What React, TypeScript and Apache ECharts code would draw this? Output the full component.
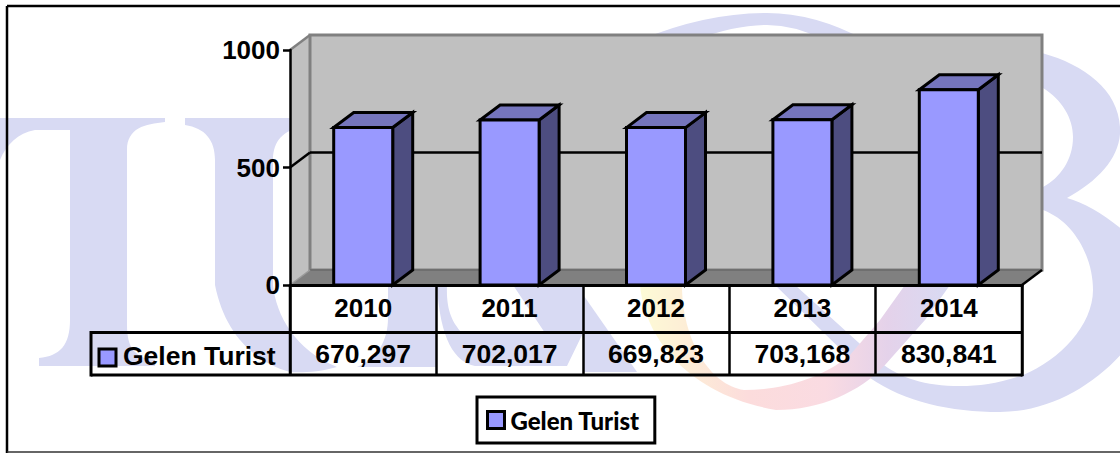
import React, { useEffect, useRef } from "react";
import * as echarts from "echarts";

const years = ["2010", "2011", "2012", "2013", "2014"];
const visitors = [670297, 702017, 669823, 703168, 830841];
const seriesName = "Gelen Turist";
const yTicks = { min: 0, max: 1000, interval: 500 };

const WM = "#d8daf3";
const watermarkT =
  "M0,118 L165,118 L165,122 C145,124 127,128 127,150 L127,325 C127,348 135,358 155,360 L155,366 L39,366 L39,358 C60,356 70,345 70,320 L70,130 L35,130 C18,133 6,145 0,160 Z";
const watermarkU =
  "M185,118 L300,118 L300,128 C285,130 273,140 273,160 L273,285 C276,315 295,350 337,367 C320,372 300,373 290,372 C255,362 225,335 215,285 L215,160 C215,140 205,128 185,125 Z";
const watermarkUArm = "M388,200 L436,200 L436,367 L357,367 C378,358 388,340 388,318 Z";
const watermarkN1 =
  "M436,285 L447,285 C446,310 452,322 462,333 L545,333 L513,285 L583,285 L583,333 L567,366 L475,366 C455,362 440,340 437,285 Z";
const watermarkN2 = "M584,296 L637,372 L584,372 Z";
const watermarkTop =
  "M640,40 Q705,13 767,13 Q815,13 865,40 L824,40 Q795,25 767,25 Q735,25 695,40 Z";
const watermarkB =
  "M775,285 L870,378 C905,402 950,412 1000,412 C1050,412 1095,385 1125,350 L1125,232 C1105,215 1085,203 1067,198 C1100,180 1122,155 1120,127 C1118,90 1085,65 1042,53 L1030,53 L1030,88 L1043,88 C1062,100 1073,118 1073,137 C1073,160 1060,178 1043,187 L1030,195 L1030,208 L1043,210 C1075,222 1093,258 1093,290 C1093,325 1060,360 1023,375 C1000,383 980,386 960,386 C925,386 900,378 880,362 L795,285 Z";
const watermarkRing =
  "M640,285 C645,340 690,395 776,410 C820,410 860,392 885,365 L925,320 L950,285 L905,285 L880,320 L850,355 C820,380 780,390 744,390 C710,385 682,340 682,285 Z";

echarts.graphic.registerShape("wmT", echarts.graphic.extendPath(watermarkT, {}));
echarts.graphic.registerShape("wmU", echarts.graphic.extendPath(watermarkU, {}));
echarts.graphic.registerShape("wmUArm", echarts.graphic.extendPath(watermarkUArm, {}));
echarts.graphic.registerShape("wmN1", echarts.graphic.extendPath(watermarkN1, {}));
echarts.graphic.registerShape("wmN2", echarts.graphic.extendPath(watermarkN2, {}));
echarts.graphic.registerShape("wmTop", echarts.graphic.extendPath(watermarkTop, {}));
echarts.graphic.registerShape("wmB", echarts.graphic.extendPath(watermarkB, {}));
echarts.graphic.registerShape("wmRing", echarts.graphic.extendPath(watermarkRing, {}));

const DX = 20;
const DY = -15;
const FONT = "Liberation Sans";

function App() {
  const ref = useRef<HTMLDivElement>(null);
  useEffect(() => {
    const chart = echarts.init(ref.current!, undefined, { renderer: "svg" });

    const poly = (points: number[][], fill: string, stroke: string, lineWidth: number) => ({
      type: "polygon",
      shape: { points },
      style: { fill, stroke, lineWidth, lineJoin: "miter" },
    });
    const seg = (x1: number, y1: number, x2: number, y2: number, stroke: string, lineWidth: number) => ({
      type: "line",
      shape: { x1, y1, x2, y2 },
      style: { stroke, lineWidth },
    });

    const renderBackdrop = (params: any, api: any) => {
      const c = params.coordSys;
      const L = c.x, R = c.x + c.width, T = c.y, B = c.y + c.height;
      const mid = api.coord([0, 500])[1];
      return {
        type: "group",
        children: [
          poly([[L, T], [L + DX, T + DY], [L + DX, B + DY], [L, B]], "#c0c0c0", "none", 0),
          poly([[L + DX, T + DY], [R + DX, T + DY], [R + DX, B + DY], [L + DX, B + DY]], "#c0c0c0", "#808080", 3),
          poly([[L, B], [L + DX, B + DY], [R + DX, B + DY], [R, B]], "#808080", "none", 0),
          seg(L + DX, B + DY, R + DX, B + DY, "#6a6a6a", 1.5),
          seg(L, T, L + DX, T + DY, "#808080", 2.5),
          seg(L, B, L + DX, B + DY, "#9a9a9a", 1.5),
          seg(L, mid, L + DX, mid + DY, "#000", 2.5),
          seg(L + DX, mid + DY, R + DX, mid + DY, "#000", 2.5),
          seg(R, B, R + DX, B + DY, "#000", 2.5),
        ],
      };
    };

    const renderBar = (_params: any, api: any) => {
      const top = api.coord([api.value(0), api.value(1)]);
      const bottom = api.coord([api.value(0), 0]);
      const hw = 29.5;
      const x0 = top[0] - hw, x1 = top[0] + hw, y0 = top[1], y1 = bottom[1];
      return {
        type: "group",
        children: [
          poly([[x1, y0], [x1 + DX, y0 + DY], [x1 + DX, y1 + DY], [x1, y1]], "#4d4d80", "#000", 3),
          poly([[x0, y0], [x0 + DX, y0 + DY], [x1 + DX, y0 + DY], [x1, y0]], "#7575bd", "#000", 3),
          poly([[x0, y0], [x1, y0], [x1, y1], [x0, y1]], "#9999ff", "#000", 3),
        ],
      };
    };

    const txt = (text: string, x: number, y: number, align: string) => ({
      type: "text",
      style: {
        text, x, y, align, verticalAlign: "middle", textAlign: align, textVerticalAlign: "middle",
        fill: "#000", fontSize: 26.5, fontWeight: "bold", fontFamily: FONT,
      },
    });

    const renderTable = (params: any, api: any) => {
      const c = params.coordSys;
      const L = c.x, R = c.x + c.width, B = c.y + c.height;
      const idx = api.value(0);
      const cx = api.coord([idx, 0])[0];
      const children: any[] = [
        txt(visitors[idx].toLocaleString("en-US"), cx, B + 68.5, "center"),
      ];
      if (idx === 0) {
        children.push(
          seg(91, B + 47.5, R, B + 47.5, "#000", 3),
          seg(91, B + 90, R, B + 90, "#000", 3),
          seg(91, B + 46, 91, B + 91.5, "#000", 3),
          seg(L, B, L, B + 91, "#000", 2.5),
          seg(R, B, R, B + 91.5, "#000", 2.5),
          { type: "rect", shape: { x: 99, y: B + 64, width: 17, height: 17 }, style: { fill: "#9999ff", stroke: "#000", lineWidth: 3 } },
          txt(seriesName, 123, B + 71, "left"),
        );
      }
      return { type: "group", children };
    };

    const wmShape = (type: string, fill: any = WM) => ({ type, x: 0, y: 0, z: 0, silent: true, style: { fill } });

    chart.setOption({
      animation: false,
      backgroundColor: "#fff",
      grid: { left: 290, right: 98, top: 50, bottom: 168 },
      xAxis: {
        type: "category",
        data: years,
        z: 5,
        axisLine: { lineStyle: { color: "#000", width: 3 } },
        axisTick: { show: true, length: 91, lineStyle: { color: "#000", width: 2.5 } },
        axisLabel: { margin: 10, color: "#000", fontSize: 26, fontWeight: "bold", fontFamily: FONT },
      },
      yAxis: {
        type: "value",
        min: yTicks.min,
        max: yTicks.max,
        interval: yTicks.interval,
        z: 5,
        axisLine: { show: true, lineStyle: { color: "#000", width: 2.5 } },
        axisTick: { show: true, length: 7, lineStyle: { color: "#000", width: 2.5 } },
        splitLine: { show: false },
        axisLabel: {
          margin: 10,
          color: "#000",
          fontSize: 26,
          fontWeight: "bold",
          fontFamily: FONT,
          formatter: (v: number) => String(v),
        },
      },
      legend: {
        data: [seriesName],
        left: 477,
        top: 397,
        padding: [11, 15, 11, 9],
        borderColor: "#000",
        borderWidth: 3,
        backgroundColor: "#fff",
        itemWidth: 17,
        itemHeight: 17,
        itemGap: 0,
        icon: "rect",
        itemStyle: { color: "#9999ff", borderColor: "#000", borderWidth: 3 },
        textStyle: { color: "#000", fontSize: 24, fontWeight: 900, fontFamily: "Lato", padding: [0, 0, 0, 1] },
      },
      graphic: [
        wmShape("wmT"),
        wmShape("wmU"),
        wmShape("wmUArm"),
        wmShape("wmN1"),
        wmShape("wmN2"),
        wmShape("wmTop"),
        wmShape("wmB"),
        wmShape("wmRing", {
          type: "linear",
          x: 640, y: 285, x2: 950, y2: 285, global: true,
          colorStops: [
            { offset: 0, color: "#fdfbd6" },
            { offset: 0.14, color: "#fdeed6" },
            { offset: 0.35, color: "#fcdcdc" },
            { offset: 0.6, color: "#fadbe2" },
            { offset: 0.8, color: "#e4d2ea" },
            { offset: 1, color: "#d8daf3" },
          ],
        }),
        { type: "line", z: 1, silent: true, shape: { x1: 7, y1: 6, x2: 1120, y2: 6 }, style: { stroke: "#000", lineWidth: 2.5 } },
        { type: "line", z: 1, silent: true, shape: { x1: 7, y1: 6, x2: 7, y2: 453 }, style: { stroke: "#000", lineWidth: 2.5 } },
        { type: "line", z: 1, silent: true, shape: { x1: 7, y1: 452, x2: 1120, y2: 452 }, style: { stroke: "#333", lineWidth: 1.5 } },
      ],
      series: [
        { type: "custom", name: "backdrop", z: 1, silent: true, renderItem: renderBackdrop, data: [[0, 0]] },
        {
          type: "custom",
          name: seriesName,
          z: 3,
          itemStyle: { color: "#9999ff" },
          renderItem: renderBar,
          encode: { x: 0, y: 1 },
          data: visitors.map((v, i) => [i, v / 1000]),
        },
        {
          type: "custom",
          name: "table",
          z: 6,
          silent: true,
          renderItem: renderTable,
          data: visitors.map((_, i) => [i, 0]),
        },
      ],
    });
    return () => chart.dispose();
  }, []);
  return <div ref={ref} style={{ position: "absolute", left: 0, top: 0, width: 1120, height: 453 }} />;
}

export default App;
